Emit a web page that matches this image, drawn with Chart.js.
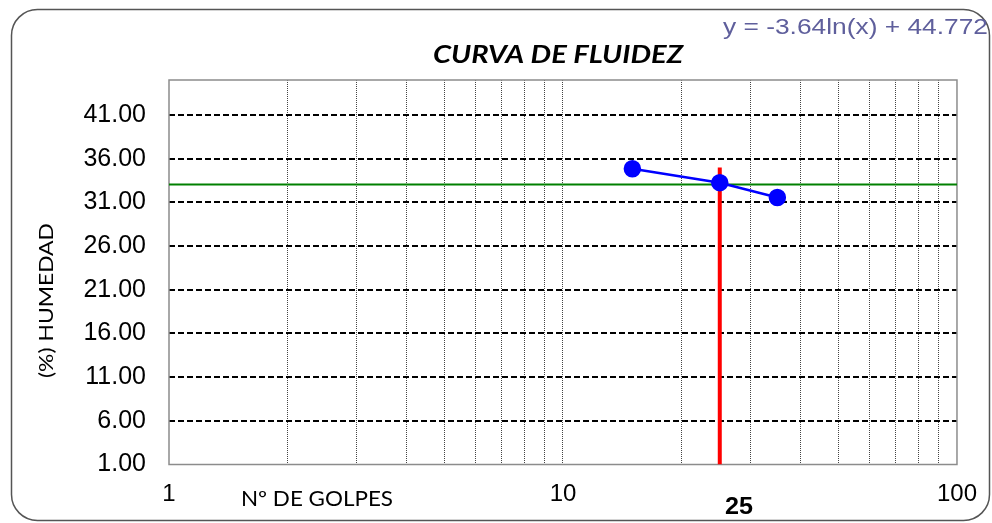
<!DOCTYPE html>
<html>
<head>
<meta charset="utf-8">
<script src="https://cdn.jsdelivr.net/npm/chart.js@4.4.0/dist/chart.umd.min.js"></script>
<style>
  html, body { margin: 0; padding: 0; background: #fff; }
  #wrap { width: 992px; height: 523px; }
</style>
</head>
<body>
<div id="wrap"><canvas id="fluidez" width="992" height="523"></canvas></div>
<script>
// data
const golpes = [15, 25, 35];
const humedad = [34.85, 33.25, 31.55];
const limiteLiquido = 33.05;      // fitted value at 25 blows
const golpesRef = 25;
const refTop = 35;
const xGridValues = [1, 2, 3, 4, 5, 6, 7, 8, 9, 10, 20, 30, 40, 50, 60, 70, 80, 90, 100];
const xLabels = [1, 10, 100];
const yTicks = [1, 6, 11, 16, 21, 26, 31, 36, 41];
const equation = "y = -3.64ln(x) + 44.772";

// draw text squeezed/stretched to a given width (left edge at x)
function fitText(ctx, text, x, y, width) {
    const w = ctx.measureText(text).width;
    ctx.save();
    ctx.translate(x, y);
    ctx.scale(width / w, 1);
    ctx.textAlign = "left";
    ctx.fillText(text, 0, 0);
    ctx.restore();
}

// frame, plot border and free texts
const decor = {
    id: "decor",
    beforeDatasetsDraw(chart) {
        const { ctx, chartArea: a } = chart;
        ctx.save();
        ctx.strokeStyle = "#8c8c8c";
        ctx.lineWidth = 1.5;
        ctx.strokeRect(a.left, a.top, a.right - a.left, a.bottom - a.top);
        ctx.restore();
    },
    afterDraw(chart) {
        const ctx = chart.ctx;
        ctx.save();
        // rounded outer frame
        ctx.strokeStyle = "#555";
        ctx.lineWidth = 1.5;
        ctx.beginPath();
        ctx.roundRect(11.5, 9.5, 978, 511, 26);
        ctx.stroke();

        ctx.fillStyle = "#000";
        ctx.textBaseline = "alphabetic";
        ctx.font = "italic bold 24px Lato";
        fitText(ctx, "CURVA DE FLUIDEZ", 433, 63, 250);

        ctx.font = "21px Lato";
        fitText(ctx, "Nº DE GOLPES", 241, 506, 152);

        ctx.font = "bold 23px 'Liberation Sans'";
        fitText(ctx, "25", 725, 514, 28);

        ctx.fillStyle = "#5f5f9c";
        ctx.font = "22px 'Liberation Sans'";
        fitText(ctx, equation, 723, 34, 265);

        ctx.fillStyle = "#000";
        ctx.translate(53, 378);
        ctx.rotate(-Math.PI / 2);
        ctx.font = "20px Lato";
        fitText(ctx, "(%) HUMEDAD", 0, 0, 155);
        ctx.restore();
    }
};

new Chart(document.getElementById("fluidez"), {
    type: "scatter",
    data: {
        datasets: [
            {
                label: "Ensayo",
                data: golpes.map((g, i) => ({ x: g, y: humedad[i] })),
                showLine: true,
                borderColor: "#0000ff",
                backgroundColor: "#0000ff",
                borderWidth: 2.5,
                pointRadius: 7.5,
                pointHoverRadius: 7.5,
                order: 0
            },
            {
                label: "25 golpes",
                data: [{ x: golpesRef, y: yTicks[0] }, { x: golpesRef, y: refTop }],
                showLine: true,
                borderColor: "#ff0000",
                borderWidth: 4,
                pointRadius: 0,
                order: 1
            },
            {
                label: "LL",
                data: [{ x: xGridValues[0], y: limiteLiquido }, { x: xGridValues[xGridValues.length - 1], y: limiteLiquido }],
                showLine: true,
                borderColor: "#008000",
                borderWidth: 2,
                pointRadius: 0,
                order: 2
            }
        ]
    },
    options: {
        responsive: false,
        animation: false,
        layout: { padding: { left: 0, top: 80, right: 32, bottom: 0 } },
        plugins: {
            legend: { display: false },
            tooltip: { enabled: false },
            title: { display: false }
        },
        scales: {
            x: {
                type: "logarithmic",
                min: 1,
                max: 100,
                afterBuildTicks: s => { s.ticks = xGridValues.map(v => ({ value: v })); },
                afterFit: s => { s.height = 58.5; },
                ticks: {
                    autoSkip: false,
                    maxRotation: 0,
                    padding: 15,
                    color: "#000",
                    font: { family: "'Liberation Sans'", size: 24 },
                    callback: v => xLabels.includes(v) ? String(v) : ""
                },
                grid: {
                    drawTicks: false,
                    color: c => (c.tick && (c.tick.value === 1 || c.tick.value === 100)) ? "rgba(0,0,0,0)" : "#444",
                    lineWidth: 1
                },
                border: { display: false, dash: [1, 1] }
            },
            y: {
                min: 1,
                max: 45,
                afterBuildTicks: s => { s.ticks = yTicks.map(v => ({ value: v })); },
                afterFit: s => { s.width = 169; },
                ticks: {
                    padding: 23,
                    color: "#000",
                    font: { family: "'Liberation Sans'", size: 25 },
                    callback: v => Number(v).toFixed(2)
                },
                grid: {
                    drawTicks: false,
                    color: c => (c.tick && c.tick.value === 1) ? "rgba(0,0,0,0)" : "#000",
                    lineWidth: 2
                },
                border: { display: false, dash: [6, 3] }
            }
        }
    },
    plugins: [decor]
});
</script>
</body>
</html>
